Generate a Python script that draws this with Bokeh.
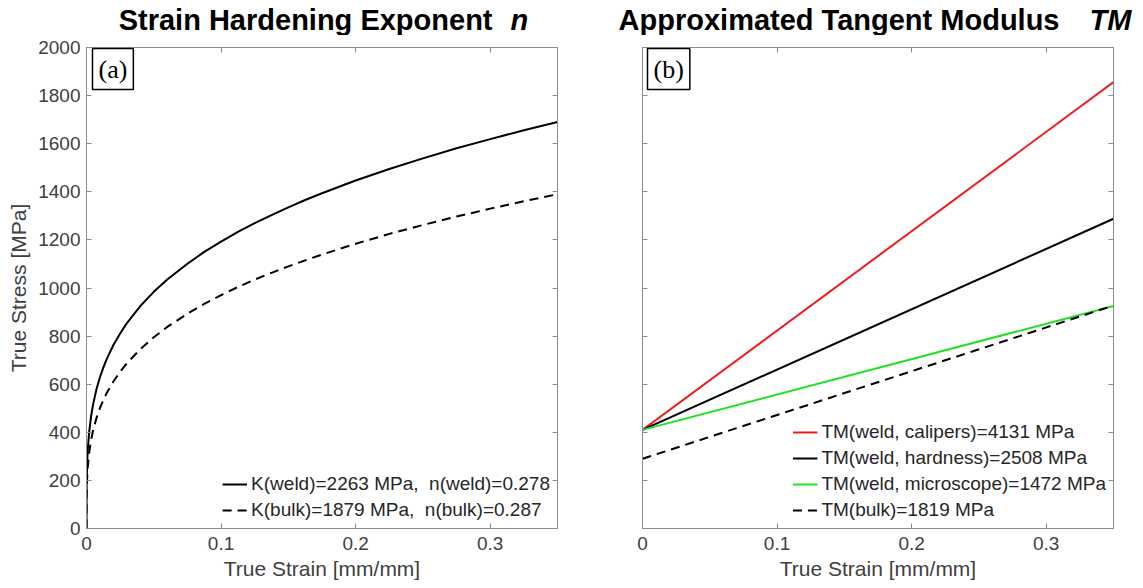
from bokeh.plotting import figure
from bokeh.layouts import row, column
from bokeh.models import Label, Legend, LegendItem, LinearAxis, FixedTicker, Range1d
from bokeh.embed import file_html
from bokeh.resources import INLINE

# ---------------- data ----------------
strain_pts = [0, 0.0001, 0.0002, 0.0005, 0.001, 0.002, 0.0035, 0.005, 0.0075, 0.01,
              0.0125, 0.015, 0.02, 0.025, 0.03, 0.04, 0.05, 0.06, 0.075, 0.0875,
              0.1, 0.1125, 0.125, 0.1375, 0.15, 0.1625, 0.175, 0.2, 0.225, 0.25,
              0.275, 0.3, 0.325, 0.35]
stress_weld = [0, 175, 212, 274, 332, 402, 470, 519, 581, 629,
               669, 704, 763, 811, 854, 925, 984, 1035, 1101, 1150,
               1193, 1233, 1270, 1303, 1335, 1366, 1394, 1447, 1495, 1539,
               1581, 1619, 1656, 1690]
stress_bulk = [0, 134, 163, 212, 259, 316, 371, 411, 461, 501,
               534, 563, 611, 652, 687, 746, 795, 838, 893, 934,
               970, 1004, 1035, 1063, 1090, 1115, 1139, 1184, 1225, 1262,
               1297, 1330, 1361, 1390]

tm_strain = [0, 0.35]
tm_calipers = [410, 1856]
tm_hardness = [410, 1288]
tm_microscope = [410, 925]
tm_bulk = [290, 927]

legend_a = ["K(weld)=2263 MPa,  n(weld)=0.278", "K(bulk)=1879 MPa,  n(bulk)=0.287"]
legend_b = ["TM(weld, calipers)=4131 MPa", "TM(weld, hardness)=2508 MPa",
            "TM(weld, microscope)=1472 MPa", "TM(bulk)=1819 MPa"]

x_ticks = [0, 0.1, 0.2, 0.3]
x_tick_labels = {0: "0", 0.1: "0.1", 0.2: "0.2", 0.3: "0.3"}
y_ticks = list(range(0, 2001, 200))

FONT = "Liberation Sans"
AX = "#8c8c8c"
TXT = "#404040"
TITLE_H = 35


def hide_labels(ax):
    ax.major_label_text_font_size = "0px"
    ax.major_label_text_color = None
    ax.major_label_standoff = 0


def make_fig(width, left, right, show_y_labels):
    p = figure(width=width, height=588 - TITLE_H, x_range=Range1d(0, 0.35), y_range=Range1d(0, 2000),
               output_backend="svg", toolbar_location=None,
               min_border_left=left, min_border_right=right,
               min_border_top=47 - TITLE_H, min_border_bottom=60)
    p.xgrid.visible = False
    p.ygrid.visible = False
    p.outline_line_color = AX
    p.outline_line_width = 1
    p.background_fill_color = "white"
    p.border_fill_color = "white"

    for ax in (p.xaxis[0], p.yaxis[0]):
        ax.axis_line_color = AX
        ax.major_tick_line_color = AX
        ax.minor_tick_line_color = None
        ax.major_tick_in = 5
        ax.major_tick_out = 0
        ax.major_label_text_font = FONT
        ax.major_label_text_font_size = "19px"
        ax.major_label_text_color = TXT
        ax.axis_label_text_font = FONT
        ax.axis_label_text_font_size = "21px"
        ax.axis_label_text_font_style = "normal"
        ax.axis_label_text_color = TXT

    p.xaxis.ticker = FixedTicker(ticks=x_ticks)
    p.xaxis.major_label_overrides = x_tick_labels
    p.xaxis.major_label_standoff = 8
    p.xaxis.axis_label = "True Strain [mm/mm]"
    p.xaxis.axis_label_standoff = 4

    p.yaxis.ticker = FixedTicker(ticks=y_ticks)
    p.yaxis.major_label_standoff = 6
    if show_y_labels:
        p.yaxis.axis_label = "True Stress [MPa]"
        p.yaxis.axis_label_standoff = 5
    else:
        hide_labels(p.yaxis[0])

    top = LinearAxis(ticker=FixedTicker(ticks=x_ticks),
                     axis_line_color=AX, major_tick_line_color=AX, minor_tick_line_color=None,
                     major_tick_in=5, major_tick_out=0)
    rgt = LinearAxis(ticker=FixedTicker(ticks=y_ticks),
                     axis_line_color=AX, major_tick_line_color=AX, minor_tick_line_color=None,
                     major_tick_in=5, major_tick_out=0)
    hide_labels(top)
    hide_labels(rgt)
    p.add_layout(top, "above")
    p.add_layout(rgt, "right")
    return p


def make_title(width, x_end, main, ital, gap):
    t = figure(width=width, height=TITLE_H, x_range=Range1d(0, width), y_range=Range1d(0, TITLE_H),
               output_backend="svg", toolbar_location=None, min_border=0, title=None)
    t.axis.visible = False
    t.xgrid.visible = False
    t.ygrid.visible = False
    t.outline_line_color = None
    t.background_fill_color = "white"
    t.border_fill_color = "white"
    ytop = TITLE_H - 3
    t.add_layout(Label(x=x_end, y=ytop, text=main, text_align="right",
                       text_baseline="top", text_font=FONT, text_font_size="29px",
                       text_font_style="bold", text_color="black"))
    t.add_layout(Label(x=x_end + gap, y=ytop, text=ital, text_align="left",
                       text_baseline="top", text_font=FONT, text_font_size="29px",
                       text_font_style="bold italic", text_color="black"))
    return t


def add_tag(p, tag, xoff):
    p.add_layout(Label(x=0, y=2000, x_offset=xoff, y_offset=-1, text=tag, text_align="left",
                       text_baseline="top", text_font="Liberation Serif", text_font_size="26px",
                       text_color="black", border_line_color="black", border_line_width=1.5,
                       background_fill_color="white", padding=6))


def add_legend(p, items):
    lg = Legend(items=items, location="bottom_right", border_line_color=None,
                background_fill_alpha=0, label_text_font=FONT, label_text_font_size="19px",
                label_text_color="#262626", glyph_width=25, glyph_height=20, label_height=20,
                spacing=4, padding=5, margin=7, label_standoff=4)
    p.add_layout(lg)


# ---------------- panel (a) ----------------
p1 = make_fig(600, 86, 43, True)
r_w = p1.line(strain_pts, stress_weld, line_color="black", line_width=2, line_join="round")
r_b = p1.line(strain_pts, stress_bulk, line_color="black", line_width=2, line_dash="9 6",
              line_join="round")
add_legend(p1, [LegendItem(label=legend_a[0], renderers=[r_w]),
                LegendItem(label=legend_a[1], renderers=[r_b])])
add_tag(p1, "(a)", 6)
t1 = make_title(600, 492, "Strain Hardening Exponent", "n", 18)

# ---------------- panel (b) ----------------
p2 = make_fig(543, 42, 30, False)
r1 = p2.line(tm_strain, tm_calipers, line_color="#ee1c1c", line_width=2)
r2 = p2.line(tm_strain, tm_hardness, line_color="black", line_width=2)
r3 = p2.line(tm_strain, tm_microscope, line_color="#22e022", line_width=2)
r4 = p2.line(tm_strain, tm_bulk, line_color="black", line_width=2, line_dash="9 6")
add_legend(p2, [LegendItem(label=legend_b[0], renderers=[r1]),
                LegendItem(label=legend_b[1], renderers=[r2]),
                LegendItem(label=legend_b[2], renderers=[r3]),
                LegendItem(label=legend_b[3], renderers=[r4])])
add_tag(p2, "(b)", 5)
t2 = make_title(543, 459, "Approximated Tangent Modulus", "TM", 30)

layout = column(row(t1, t2), row(p1, p2))
open("out.html", "w").write(file_html(layout, INLINE))
